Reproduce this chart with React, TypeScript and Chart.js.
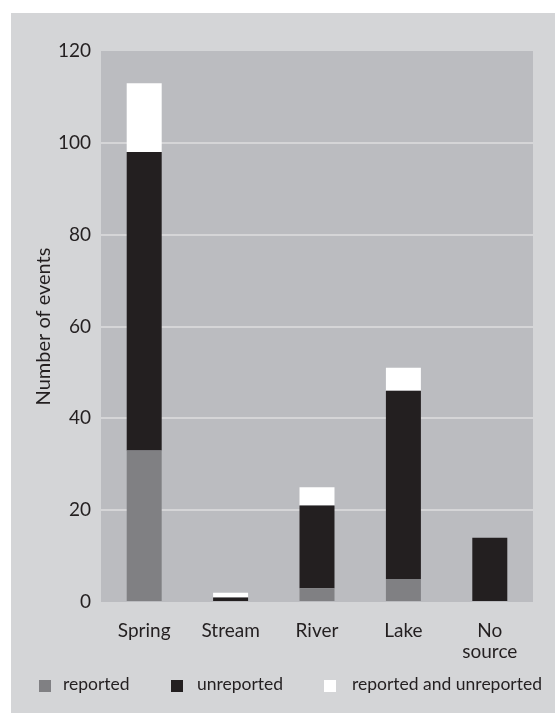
import React, { useEffect, useRef } from "react";
import { Chart, registerables } from "chart.js";

Chart.register(...registerables);

const categories: (string | string[])[] = ["Spring", "Stream", "River", "Lake", ["No", "source"]];
const reported = [33, 0, 3, 5, 0];
const unreported = [65, 1, 18, 41, 14];
const reportedAndUnreported = [15, 1, 4, 5, 0];
const seriesLabels = ["reported", "unreported", "reported and unreported"];
const yTicks = [0, 20, 40, 60, 80, 100, 120];

const COLORS = ["#808083", "#231f20", "#ffffff"];
const FONT = "Lato, 'DejaVu Sans', sans-serif";
const TEXT = "#231f20";
const PANEL = "#d4d5d7";
const PLOT = "#bbbcc0";
const GRID = "#d5d5d7";

const plotBg = {
  id: "plotBg",
  beforeDraw(chart: any) {
    const { ctx, chartArea } = chart;
    if (!chartArea) return;
    ctx.save();
    ctx.fillStyle = PLOT;
    ctx.fillRect(chartArea.left, chartArea.top, chartArea.right - chartArea.left, chartArea.bottom - chartArea.top);
    ctx.restore();
  },
};

export default function App() {
  const ref = useRef<HTMLCanvasElement | null>(null);

  useEffect(() => {
    if (!ref.current) return;
    const chart = new Chart(ref.current, {
      type: "bar",
      data: {
        labels: categories as any,
        datasets: [reported, unreported, reportedAndUnreported].map((d, i) => ({
          label: seriesLabels[i],
          data: d,
          backgroundColor: COLORS[i],
          borderWidth: 0,
          barPercentage: 0.405,
          categoryPercentage: 1,
        })),
      },
      options: {
        animation: false,
        responsive: false,
        maintainAspectRatio: false,
        layout: { padding: { top: 51, right: 22, bottom: 0, left: 0 } },
        plugins: { legend: { display: false }, tooltip: { enabled: false } },
        scales: {
          x: {
            stacked: true,
            grid: { display: false },
            border: { display: false },
            ticks: {
              color: TEXT,
              font: { family: FONT, size: 19, lineHeight: 1.08 },
              padding: 11,
              maxRotation: 0,
              autoSkip: false,
            },
            afterFit(scale: any) {
              scale.height = 111;
            },
          },
          y: {
            stacked: true,
            min: 0,
            max: 120,
            afterBuildTicks(scale: any) {
              scale.ticks = yTicks.map((v) => ({ value: v }));
            },
            grid: {
              drawTicks: false,
              lineWidth: 2,
              color: (ctx: any) => (ctx.tick && (ctx.tick.value === 0 || ctx.tick.value === 120) ? "rgba(0,0,0,0)" : GRID),
            },
            border: { display: false },
            ticks: {
              color: TEXT,
              font: { family: FONT, size: 19 },
              padding: 10,
            },
            title: {
              display: true,
              text: "Number of events",
              color: TEXT,
              font: { family: FONT, size: 20 },
              padding: { top: 32, bottom: 0 },
            },
            afterFit(scale: any) {
              scale.width = 101;
            },
          },
        },
      },
      plugins: [plotBg],
    });
    return () => chart.destroy();
  }, []);

  const legendItems = [
    { box: 39, text: 63 },
    { box: 171, text: 197 },
    { box: 324, text: 352 },
  ];

  return (
    <div style={{ position: "absolute", left: 0, top: 0, width: 555, height: 713, background: "#ffffff", overflow: "hidden" }}>
      <div style={{ position: "absolute", left: 11, top: 13, width: 544, height: 700, background: PANEL }} />
      <canvas ref={ref} width={555} height={713} style={{ position: "absolute", left: 0, top: 0, width: 555, height: 713 }} />
      {legendItems.map((it, i) => (
        <React.Fragment key={i}>
          <div style={{ position: "absolute", left: it.box, top: 680, width: 12, height: 12, background: COLORS[i] }} />
          <div
            style={{
              position: "absolute",
              left: it.text,
              top: 674,
              fontFamily: FONT,
              fontSize: 17.5,
              lineHeight: "20px",
              color: TEXT,
              whiteSpace: "nowrap",
            }}
          >
            {seriesLabels[i]}
          </div>
        </React.Fragment>
      ))}
    </div>
  );
}
